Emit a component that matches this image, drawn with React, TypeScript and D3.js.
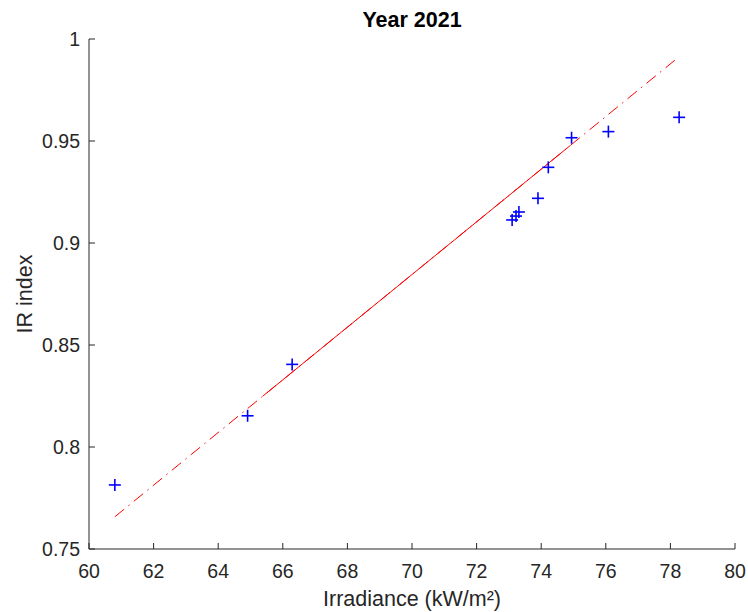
import React from "react";
import * as d3 from "d3";

const irradiance = [60.8, 64.91, 66.29, 73.1, 73.22, 73.31, 73.9, 74.22, 74.94, 76.08, 78.27];
const irIndex = [0.7814, 0.8153, 0.8405, 0.9113, 0.9132, 0.9152, 0.9219, 0.9371, 0.9516, 0.9546, 0.9616];
const fitSlope = 0.012908;
const fitIntercept = -0.01901;
const solidSpan = [65.39, 74.9];
const xTicks = [60, 62, 64, 66, 68, 70, 72, 74, 76, 78, 80];
const yTicks = [0.75, 0.8, 0.85, 0.9, 0.95, 1];
const yTickLabels = ["0.75", "0.8", "0.85", "0.9", "0.95", "1"];
const title = "Year 2021";
const xLabel = "Irradiance (kW/m²)";
const yLabel = "IR index";

export default function App() {
  const W = 748, H = 612;
  const L = 89, R = 735, T = 39, B = 549;
  const x = d3.scaleLinear().domain([60, 80]).range([L, R]);
  const y = d3.scaleLinear().domain([0.75, 1]).range([B, T]);
  const fit = (v: number) => fitIntercept + fitSlope * v;
  const xMin = d3.min(irradiance)!;
  const xMax = d3.max(irradiance)!;
  const line = d3.line<number>().x((d) => x(d)).y((d) => y(fit(d)));
  const axisColor = "#262626";
  const font = "'Liberation Sans', Arial, Helvetica, sans-serif";
  const ms = 6;
  return (
    <svg width={W} height={H} style={{ position: "absolute", left: 0, top: 0, background: "#fff" }}>
      <rect x={0} y={0} width={W} height={H} fill="#fff" />
      {/* fit line */}
      <path d={line([xMin, xMax]) || ""} fill="none" stroke="#ff0000" strokeWidth={1} strokeDasharray="12,5.5,1.5,5.5" />
      <path d={line(solidSpan) || ""} fill="none" stroke="#ff0000" strokeWidth={1} />
      {/* markers */}
      {irradiance.map((v, i) => (
        <g key={i} stroke="#0000ff" strokeWidth={1.6}>
          <line x1={x(v) - ms} x2={x(v) + ms} y1={y(irIndex[i])} y2={y(irIndex[i])} />
          <line x1={x(v)} x2={x(v)} y1={y(irIndex[i]) - ms} y2={y(irIndex[i]) + ms} />
        </g>
      ))}
      {/* axes */}
      <line x1={L} x2={R} y1={B} y2={B} stroke={axisColor} strokeWidth={1} />
      <line x1={L} x2={L} y1={T} y2={B} stroke={axisColor} strokeWidth={1} />
      {xTicks.map((t) => (
        <g key={t}>
          <line x1={x(t)} x2={x(t)} y1={B} y2={B - 6} stroke={axisColor} />
          <text x={x(t)} y={578} textAnchor="middle" fontFamily={font} fontSize={19.5} fill={axisColor}>
            {t}
          </text>
        </g>
      ))}
      {yTicks.map((t, i) => (
        <g key={t}>
          <line x1={L} x2={L + 6} y1={y(t)} y2={y(t)} stroke={axisColor} />
          <text x={L - 9} y={y(t)} dy="0.35em" textAnchor="end" fontFamily={font} fontSize={19.5} fill={axisColor}>
            {yTickLabels[i]}
          </text>
        </g>
      ))}
      <text x={(L + R) / 2} y={606} textAnchor="middle" fontFamily={font} fontSize={21.5} fill={axisColor}>
        {xLabel}
      </text>
      <text transform={`translate(31.5, ${(T + B) / 2}) rotate(-90)`} textAnchor="middle" fontFamily={font} fontSize={21.5} fill={axisColor}>
        {yLabel}
      </text>
      <text x={(L + R) / 2} y={27} textAnchor="middle" fontFamily={font} fontSize={21.5} fontWeight="bold" fill="#000">
        {title}
      </text>
    </svg>
  );
}
